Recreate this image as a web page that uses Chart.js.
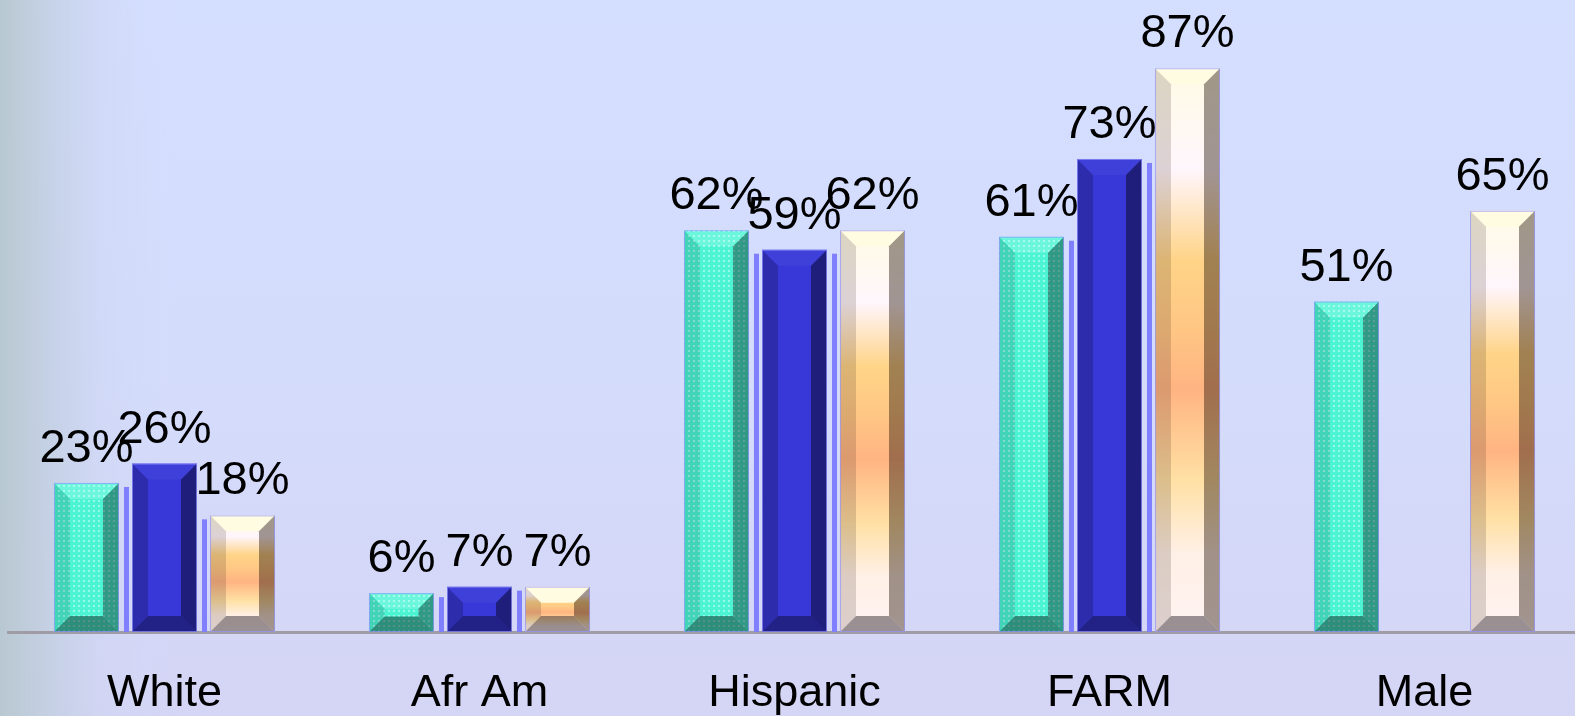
<!DOCTYPE html>
<html>
<head>
<meta charset="utf-8">
<script src="https://cdn.jsdelivr.net/npm/chart.js@4/dist/chart.umd.min.js"></script>
<style>
  html, body { margin: 0; padding: 0; width: 1575px; height: 716px; overflow: hidden; }
  body {
    background:
      linear-gradient(to right, rgba(184,200,208,1) 0px, rgba(192,206,222,0.72) 50px, rgba(204,214,240,0.42) 100px, rgba(210,220,250,0.16) 150px, rgba(212,222,255,0) 170px),
      linear-gradient(to bottom, #d4deff 0%, #d4dcfc 50%, #d5d5f5 100%);
  }
  #wrap { position: absolute; left: 7px; top: -16px; width: 1575px; height: 732px; }
</style>
</head>
<body>
<div id="wrap"><canvas id="barChart"></canvas></div>
<script>
const categories = ['White', 'Afr Am', 'Hispanic', 'FARM', 'Male'];
const series1 = [23, 6, 62, 61, 51];
const series2 = [26, 7, 59, 73, null];
const series3 = [18, 7, 62, 87, 65];

// dotted fill for the green bars
function dotPattern() {
    const c = document.createElement('canvas');
    c.width = 5; c.height = 5;
    const g = c.getContext('2d');
    g.fillStyle = '#4cf4d4';
    g.fillRect(0, 0, 5, 5);
    g.fillStyle = 'rgba(170,255,240,0.75)';
    g.fillRect(1, 1, 2, 2);
    return g.createPattern(c, 'repeat');
}

function peachGradient(ctx, top, bottom) {
    const gr = ctx.createLinearGradient(0, top, 0, bottom);
    gr.addColorStop(0, '#fffbe4');
    gr.addColorStop(0.18, '#fff6fc');
    gr.addColorStop(0.34, '#ffd488');
    gr.addColorStop(0.45, '#ffc884');
    gr.addColorStop(0.57, '#ffb482');
    gr.addColorStop(0.73, '#ffe0a4');
    gr.addColorStop(0.86, '#fff0e6');
    gr.addColorStop(1, '#fff4f2');
    return gr;
}

// shading of the four bevels: top, left, right, bottom
const bevelShade = [
    { top: 'rgba(255,255,255,0.18)', left: 'rgba(0,0,0,0.13)', right: 'rgba(0,0,0,0.37)', bottom: 'rgba(0,0,0,0.42)' },
    { top: 'rgba(255,255,255,0.04)', left: 'rgba(0,0,0,0.2)', right: 'rgba(0,0,0,0.43)', bottom: 'rgba(0,0,0,0.38)' },
    { top: '#fffce2', left: 'rgba(40,20,10,0.16)', right: 'rgba(30,15,5,0.42)', bottom: 'rgba(40,30,40,0.47)' }
];

function poly(ctx, pts, fill) {
    ctx.beginPath();
    ctx.moveTo(pts[0][0], pts[0][1]);
    for (let i = 1; i < pts.length; i++) ctx.lineTo(pts[i][0], pts[i][1]);
    ctx.closePath();
    ctx.fillStyle = fill;
    ctx.fill();
}

const bevelPlugin = {
    id: 'bevel',
    beforeDatasetsDraw(chart) {
        const ctx = chart.ctx;
        const metas = [0, 1, 2].map(i => chart.getDatasetMeta(i));
        const vals = [series1, series2, series3];
        ctx.save();
        ctx.fillStyle = '#8080ff';
        for (let d = 0; d < 2; d++) {
            categories.forEach((c, i) => {
                if (vals[d][i] == null || vals[d + 1][i] == null) return;
                const a = metas[d].data[i].getProps(['x', 'y', 'base', 'width'], true);
                const b = metas[d + 1].data[i].getProps(['y'], true);
                const top = Math.max(a.y, b.y) + 4;
                ctx.fillRect(a.x + a.width / 2 + 5, top, 5, a.base - top);
            });
        }
        ctx.restore();
    },
    afterDatasetsDraw(chart) {
        const ctx = chart.ctx;
        const vals = [series1, series2, series3];
        ctx.save();
        for (let d = 0; d < 3; d++) {
            const meta = chart.getDatasetMeta(d);
            meta.data.forEach((el, i) => {
                if (vals[d][i] == null) return;
                const p = el.getProps(['x', 'y', 'base', 'width'], true);
                const L = p.x - p.width / 2, R = p.x + p.width / 2, T = p.y, B = p.base;
                const b = Math.min(16, (B - T) / 2.5);
                if (d === 2) {
                    ctx.fillStyle = peachGradient(ctx, T, B);
                    ctx.fillRect(L, T, R - L, B - T);
                }
                const s = bevelShade[d];
                poly(ctx, [[L, T], [R, T], [R - b, T + b], [L + b, T + b]], s.top);
                poly(ctx, [[L, T], [L + b, T + b], [L + b, B - b], [L, B]], s.left);
                poly(ctx, [[R, T], [R, B], [R - b, B - b], [R - b, T + b]], s.right);
                poly(ctx, [[L, B], [R, B], [R - b, B - b], [L + b, B - b]], s.bottom);
                ctx.strokeStyle = 'rgba(150,150,255,0.7)';
                ctx.lineWidth = 1;
                ctx.strokeRect(L + 0.5, T + 0.5, R - L - 1, B - T - 1);
            });
        }
        // value labels
        ctx.font = '47px "Liberation Sans", Arial, sans-serif';
        ctx.fillStyle = '#000';
        ctx.textAlign = 'center';
        ctx.textBaseline = 'alphabetic';
        for (let d = 0; d < 3; d++) {
            const meta = chart.getDatasetMeta(d);
            meta.data.forEach((el, i) => {
                if (vals[d][i] == null) return;
                const p = el.getProps(['x', 'y'], true);
                ctx.fillText(vals[d][i] + '%', p.x, p.y - 21);
            });
        }
        ctx.restore();
    }
};

const ctx = document.getElementById('barChart').getContext('2d');
const myBarChart = new Chart(ctx, {
    type: 'bar',
    data: {
        labels: categories,
        datasets: [
            { label: 'Series 1', data: series1, backgroundColor: dotPattern() },
            { label: 'Series 2', data: series2, backgroundColor: '#3838d8' },
            { label: 'Series 3', data: series3, backgroundColor: '#ffd8a0' }
        ]
    },
    options: {
        responsive: true,
        maintainAspectRatio: false,
        animation: false,
        layout: { padding: 0 },
        datasets: {
            bar: { categoryPercentage: 0.743, barPercentage: 0.833, borderWidth: 0 }
        },
        plugins: {
            legend: { display: false },
            tooltip: { enabled: false }
        },
        scales: {
            x: {
                grid: { display: false, drawTicks: false },
                border: { display: true, color: '#a09ca6', width: 3 },
                ticks: {
                    color: '#000',
                    padding: 35,
                    font: { family: '"Liberation Sans", Arial, sans-serif', size: 45 }
                },
                afterFit(scale) { scale.height = 84; }
            },
            y: {
                display: false,
                min: 0,
                max: 100
            }
        }
    },
    plugins: [bevelPlugin]
});
</script>
</body>
</html>
